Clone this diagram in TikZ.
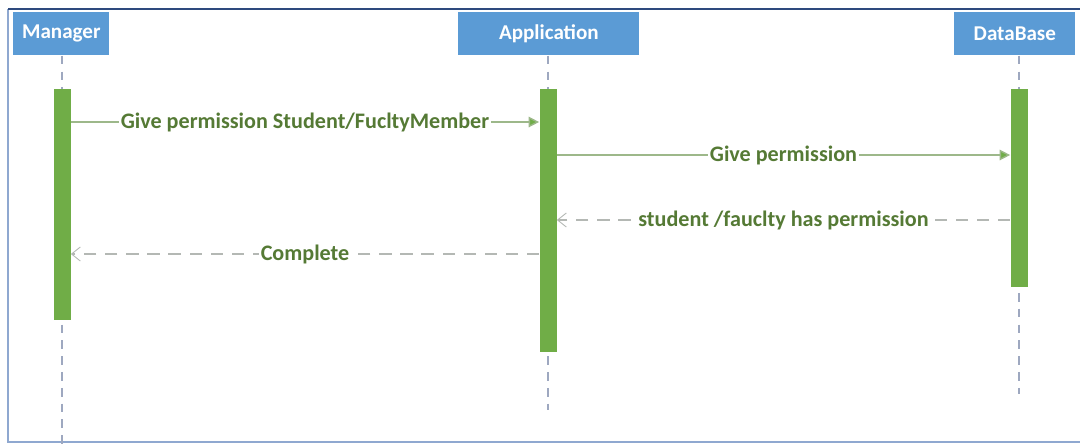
\documentclass[tikz,border=0pt]{standalone}
\usepackage{fontspec}
\setmainfont{Carlito}
\usetikzlibrary{arrows.meta}
\definecolor{hdrblue}{HTML}{5B9BD5}
\definecolor{bargreen}{HTML}{70AD47}
\definecolor{lblgreen}{HTML}{557A35}
\definecolor{msgline}{HTML}{9DB88A}
\definecolor{retline}{HTML}{B4B8B4}
\definecolor{lifeline}{HTML}{9EA8C0}
\definecolor{frametop}{HTML}{2E4A7E}
\definecolor{frameside}{HTML}{8FA8D0}
\tikzset{
  header/.style={fill=hdrblue, text=white, font=\bfseries\fontsize{12}{14}\selectfont, inner sep=0pt, anchor=north west},
  actbar/.style={fill=bargreen, draw=none, inner sep=0pt, minimum width=17*0.02cm, anchor=north},
  life/.style={draw=lifeline, line width=0.9pt, dash pattern=on 5pt off 4pt},
  msg/.style={draw=msgline, line width=0.8pt, -{Triangle[length=6pt,width=6pt,fill=bargreen]}},
  ret/.style={draw=retline, line width=0.9pt, dash pattern=on 7pt off 5pt, -{Straight Barb[length=5pt,width=8pt,line width=0.5pt]}},
  lbl/.style={fill=white, text=lblgreen, font=\bfseries\fontsize{12.6}{14}\selectfont, inner sep=1pt}
}
\begin{document}
\begin{tikzpicture}[x=0.02cm,y=-0.02cm]
\useasboundingbox (0,0) rectangle (1080,444);
% frame
\draw[frameside, line width=0.8pt] (8,9) -- (8,442) -- (1080,442);
\draw[frametop, line width=1.4pt] (8,9) -- (1080,9);
% headers
\node[header, minimum width=96*0.02cm, minimum height=43*0.02cm] (man) at (13,12) {Manager};
\node[header, minimum width=181*0.02cm, minimum height=43*0.02cm] (app) at (458,12) {Application};
\node[header, minimum width=121*0.02cm, minimum height=43*0.02cm] (db) at (954,12) {DataBase};
% lifeline ends
\coordinate (manend) at (62,444);
\coordinate (append) at (548,410);
\coordinate (dbend) at (1019,394);
\draw[life] (man.south -| manend) -- (manend);
\draw[life] (app.south -| append) -- (append);
\draw[life] (db.south -| dbend) -- (dbend);
% activation bars
\node[actbar, minimum height=231*0.02cm] (manbar) at (62,89) {};
\node[actbar, minimum height=263*0.02cm] (appbar) at (548,89) {};
\node[actbar, minimum height=198*0.02cm] (dbbar) at (1019,89) {};
% messages
\coordinate (m1) at (0,122);
\coordinate (m2) at (0,155);
\coordinate (m3) at (0,220);
\coordinate (m4) at (0,254);
\draw[msg] (manbar.east |- m1) -- node[lbl, pos=0.5] {Give permission Student/FucltyMember} (appbar.west |- m1);
\draw[msg] (appbar.east |- m2) -- node[lbl, pos=0.5] {Give permission} (dbbar.west |- m2);
\draw[ret] (dbbar.west |- m3) -- node[lbl, pos=0.5] {student /fauclty has permission} (appbar.east |- m3);
\draw[ret] (appbar.west |- m4) -- node[lbl, pos=0.5] {Complete} (manbar.east |- m4);
\end{tikzpicture}
\end{document}
